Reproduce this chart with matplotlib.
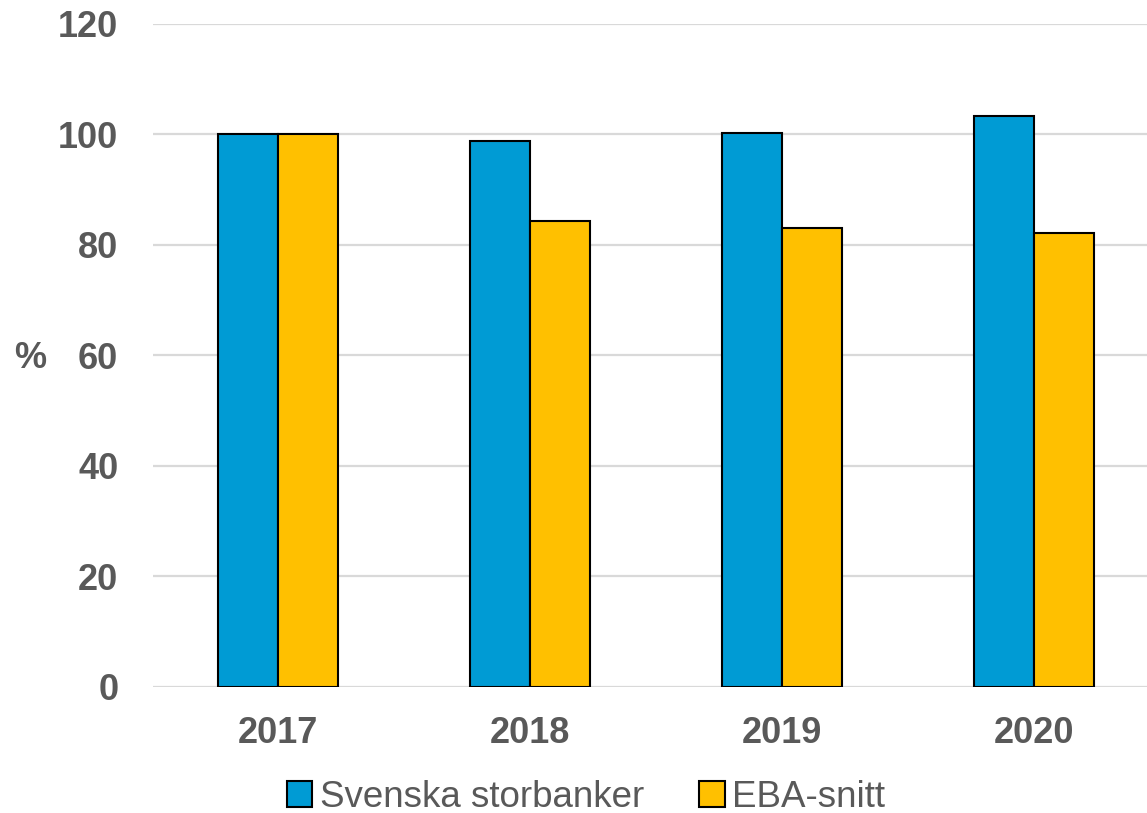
import matplotlib
matplotlib.use("Agg")
import matplotlib.pyplot as plt
import numpy as np

years = ["2017", "2018", "2019", "2020"]
svenska = [100.0, 98.8, 100.2, 103.2]
eba = [100.0, 84.3, 83.1, 82.2]
series_names = ["Svenska storbanker", "EBA-snitt"]
yticks = [0, 20, 40, 60, 80, 100, 120]

plt.rcParams['font.family'] = ['Liberation Sans', 'DejaVu Sans']
gray = '#595959'

fig = plt.figure(figsize=(11.47, 8.13), dpi=100)
ax = fig.add_axes([0.1334, 0.155, 0.8666, 0.816])

x = np.arange(len(years))
w = 0.238
ax.bar(x - w/2, svenska, w, color='#009BD4', edgecolor='black', linewidth=1.5,
       label=series_names[0], zorder=3)
ax.bar(x + w/2, eba, w, color='#FFC000', edgecolor='black', linewidth=1.5,
       label=series_names[1], zorder=3)

ax.set_xlim(-0.496, 3.448)
ax.set_ylim(0, 120)
ax.set_yticks(yticks)
ax.set_yticklabels([str(t) for t in yticks])
ax.set_xticks(x)
ax.set_xticklabels(years)
ax.yaxis.grid(True, color='#D9D9D9', linewidth=1.6, zorder=0)
ax.set_axisbelow(True)
for s in ax.spines.values():
    s.set_visible(False)
ax.tick_params(axis='both', length=0, labelsize=26, labelcolor=gray)
ax.tick_params(axis='y', pad=25)
ax.tick_params(axis='x', pad=21)
for lbl in ax.get_xticklabels() + ax.get_yticklabels():
    lbl.set_fontweight('bold')

fig.text(30/1147, 1 - 358/813, '%', fontsize=26, fontweight='bold', color=gray,
         ha='center', va='center')

leg = fig.legend(loc='center', bbox_to_anchor=(586/1147, 1 - 797/813), ncol=2,
                 frameon=False, fontsize=26.5, handlelength=0.7, handleheight=0.7,
                 handletextpad=0.2, columnspacing=1.5)
for t in leg.get_texts():
    t.set_color(gray)

fig.savefig('out.png', dpi=100)
